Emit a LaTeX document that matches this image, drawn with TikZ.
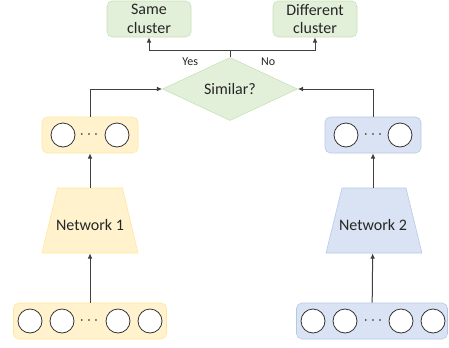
\documentclass[tikz,border=0pt]{standalone}
\usepackage{fontspec}
\setmainfont{Carlito}
\usepackage{tikz}
\usetikzlibrary{
    arrows.meta,
    shapes.geometric
}
\definecolor{grnfill}{HTML}{E2F0D9}
\definecolor{grnline}{HTML}{C5E0B4}
\definecolor{ylwfill}{HTML}{FFF2CC}
\definecolor{ylwline}{HTML}{FFE699}
\definecolor{blufill}{HTML}{DAE3F3}
\definecolor{bluline}{HTML}{B4C7E7}
\tikzset{
    vecbox/.style={draw, rounded corners=4pt, minimum height=27pt, inner sep=0pt},
    neuron/.style={draw=black!80, fill=white, circle, minimum size=18pt, inner sep=0pt, line width=0.6pt},
    netlabel/.style={minimum width=72pt, minimum height=48.75pt, inner sep=0pt, text height=14.5pt, text depth=0pt},
    wire/.style={draw=black!75, line width=0.75pt},
    link/.style={wire, -{Latex[length=4pt,width=3.5pt]}},
    small/.style={font=\fontsize{9}{11}\selectfont}
}
\newcommand{\hiddendots}{$\cdot\mkern-1mu\cdot\mkern-1mu\cdot$}

\begin{document}
\begin{tikzpicture}[x=0.75pt, y=-0.75pt, font=\fontsize{12}{14}\selectfont, text=black!85]
        \useasboundingbox (0,0) rectangle (449,347);

        % outputs
        \draw (149,19) node[vecbox, fill=grnfill, draw=grnline, minimum width=63pt, align=center](same){Same\\cluster};
        \draw (315,19) node[vecbox, fill=grnfill, draw=grnline, minimum width=63pt, align=center](diff){Different\\cluster};

        % decision
        \draw (230,89) node[diamond, fill=grnfill, draw=grnline, minimum width=101.25pt, minimum height=42pt, inner sep=0pt](sim){Similar?};
        \coordinate (fork) at (230,50);

        % left branch
        \draw (90,321) node[vecbox, fill=ylwfill, draw=ylwline, minimum width=114.75pt](in1){};
        \foreach \dx [count=\k] in {-60,-28,28,60}
            \draw (90+\dx,321) node[neuron](in1c\k){};
        \draw (89,321) node(in1dots){\hiddendots};
        \draw[fill=ylwfill, draw=ylwline] (42,253) -- (138,253) -- (122.5,188) -- (57.5,188) -- cycle;
        \draw (90,220.5) node[netlabel](net1){Network 1};
        \draw (90,135) node[vecbox, fill=ylwfill, draw=ylwline, minimum width=72pt](emb1){};
        \foreach \dx [count=\k] in {-27,27}
            \draw (90+\dx,135) node[neuron](emb1c\k){};
        \draw (89,135) node(emb1dots){\hiddendots};

        % right branch
        \draw (372,321) node[vecbox, fill=blufill, draw=bluline, minimum width=113.25pt](in2){};
        \foreach \dx [count=\k] in {-59,-27,29,61}
            \draw (372+\dx,321) node[neuron](in2c\k){};
        \draw (373,321) node(in2dots){\hiddendots};
        \draw[fill=blufill, draw=bluline] (326,253) -- (422,253) -- (406,188) -- (342,188) -- cycle;
        \draw (373,220.5) node[netlabel](net2){Network 2};
        \draw (373,135) node[vecbox, fill=blufill, draw=bluline, minimum width=72pt](emb2){};
        \foreach \dx [count=\k] in {-27,27}
            \draw (373+\dx,135) node[neuron](emb2c\k){};
        \draw (373,135) node(emb2dots){\hiddendots};

        % connectors
        \draw[link] (in1) -- (net1);
        \draw[link] (net1) -- (emb1);
        \draw[link] (emb1) |- (sim);
        \draw[link] (in2) -- (net2);
        \draw[link] (net2) -- (emb2);
        \draw[link] (emb2) |- (sim);
        \draw[wire] (sim) -- (fork);
        \draw[link] (fork) -| node[pos=0.245, below=2pt, small]{Yes} (same);
        \draw[link] (fork) -| node[pos=0.225, below=2pt, small]{No} (diff);
    \end{tikzpicture}
\end{document}
